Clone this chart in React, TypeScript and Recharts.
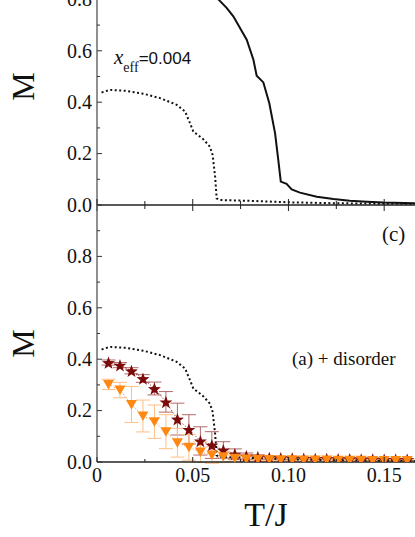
import React from 'react';
import { ComposedChart, Line, XAxis, YAxis, ErrorBar, Customized } from 'recharts';

// x range shown (the figure is cropped at the right edge)
const X_MAX = 0.1661;
const xTicks = [0, 0.025, 0.05, 0.075, 0.1, 0.125, 0.15];
const yTicksTop = [0, 0.1, 0.2, 0.3, 0.4, 0.5, 0.6, 0.7, 0.8, 0.9, 1.0];
const yTicksBottom = [0, 0.1, 0.2, 0.3, 0.4, 0.5, 0.6, 0.7, 0.8, 0.9];

// top panel: clean system (solid) and x_eff = 0.004 (dotted)
const solidT = [0.004, 0.03, 0.05, 0.06, 0.0634, 0.0677, 0.0712, 0.0782, 0.0817, 0.0834, 0.0869, 0.09, 0.093, 0.0947, 0.096, 0.099, 0.1017, 0.106, 0.1148, 0.1235, 0.132, 0.141, 0.1496, 0.166];
const solidM = [0.93, 0.9, 0.86, 0.82, 0.8, 0.767, 0.734, 0.643, 0.565, 0.503, 0.477, 0.396, 0.28, 0.175, 0.091, 0.082, 0.061, 0.048, 0.032, 0.023, 0.017, 0.013, 0.01, 0.007];

const dotT = [0.0024, 0.0068, 0.0155, 0.0242, 0.0329, 0.0416, 0.046, 0.0486, 0.0503, 0.0555, 0.059, 0.0604, 0.0617, 0.0625, 0.0643, 0.08, 0.1, 0.123, 0.15, 0.166];
const dotM = [0.438, 0.448, 0.444, 0.433, 0.416, 0.39, 0.364, 0.318, 0.286, 0.256, 0.227, 0.195, 0.11, 0.026, 0.0195, 0.016, 0.0105, 0.007, 0.005, 0.004];

// bottom panel: (a) + disorder, two sets with error bars
const markT = [0.006, 0.012, 0.018, 0.024, 0.03, 0.036, 0.042, 0.048, 0.054, 0.06, 0.066, 0.072, 0.078, 0.084, 0.09, 0.096, 0.102, 0.108, 0.114, 0.12, 0.126, 0.132, 0.138, 0.144, 0.15, 0.156, 0.162];
const starM = [0.387, 0.377, 0.355, 0.325, 0.286, 0.234, 0.167, 0.127, 0.082, 0.066, 0.047, 0.031, 0.023, 0.02, 0.017, 0.016, 0.015, 0.014, 0.013, 0.013, 0.012, 0.012, 0.011, 0.011, 0.01, 0.01, 0.01];
const starErr = [0.01, 0.01, 0.012, 0.015, 0.025, 0.04, 0.062, 0.057, 0.055, 0.052, 0.032, 0.02, 0.012, 0.008, 0.006, 0.005, 0.005, 0.004, 0.004, 0.004, 0.004, 0.004, 0.004, 0.004, 0.004, 0.004, 0.004];
const triM = [0.302, 0.28, 0.224, 0.179, 0.157, 0.118, 0.075, 0.057, 0.039, 0.027, 0.02, 0.015, 0.012, 0.011, 0.01, 0.009, 0.009, 0.008, 0.008, 0.008, 0.007, 0.007, 0.007, 0.006, 0.006, 0.006, 0.006];
const triErr = [0.02, 0.03, 0.07, 0.062, 0.065, 0.066, 0.056, 0.05, 0.04, 0.032, 0.022, 0.012, 0.008, 0.006, 0.005, 0.004, 0.004, 0.004, 0.004, 0.004, 0.004, 0.004, 0.004, 0.004, 0.004, 0.004, 0.004];

const zip = (t: number[], m: number[], e?: number[]) =>
  t.map((v, i) => ({ t: v, m: m[i], err: e ? e[i] : 0 }));

const solidData = zip(solidT, solidM);
const dottedData = zip(dotT, dotM);
const starData = zip(markT, starM, starErr);
const triData = zip(markT, triM, triErr);

const SERIF = '"Liberation Serif", "Times New Roman", serif';
const SANS = '"Liberation Sans", Arial, sans-serif';
const STAR = '#7b0b0b';
const STAR_ERR = '#b46a6a';
const TRI = '#ff8812';
const TRI_ERR = '#ffbf85';

const isMajorY = (v: number) => Math.round(v * 10) % 2 === 0;
const isMajorX = (v: number) => Math.round(v * 1000) % 50 === 0;

const YTick = (p: any) => {
  const v = p.payload.value;
  const major = isMajorY(v);
  return (
    <g>
      <line x1={p.x} x2={p.x + (major ? 5 : 3)} y1={p.y} y2={p.y} stroke="#333" strokeWidth={1} />
      {major && (
        <text x={p.x - 5} y={p.y} dy="0.34em" textAnchor="end" style={{ fontFamily: SERIF }} fontSize={20} fill="#111">
          {v.toFixed(1)}
        </text>
      )}
    </g>
  );
};

const TopXTick = (p: any) => {
  const h = isMajorX(p.payload.value) ? 6 : 4;
  return <line x1={p.x} x2={p.x} y1={p.y - h} y2={p.y + h} stroke="#222" strokeWidth={1} />;
};

const BottomXTick = (p: any) => {
  const v = p.payload.value;
  const major = isMajorX(v);
  const label = v === 0 ? '0' : v.toFixed(2);
  return (
    <g>
      <line x1={p.x} x2={p.x} y1={p.y} y2={p.y - (major ? 5 : 3)} stroke="#222" strokeWidth={1} />
      {major && (
        <text x={p.x} y={p.y + 20} textAnchor="middle" style={{ fontFamily: SERIF }} fontSize={20} fill="#111">
          {label}
        </text>
      )}
    </g>
  );
};

const MLabel = (p: any) => {
  const vb = p.viewBox;
  const x = 22.5;
  const y = vb.y + vb.height / 2 + 10;
  return (
    <text x={x} y={y} transform={`rotate(-90, ${x}, ${y})`} textAnchor="middle" dominantBaseline="central"
      style={{ fontFamily: SERIF }} fontSize={32} fill="#111">M</text>
  );
};

const TJLabel = (p: any) => {
  const vb = p.viewBox;
  return (
    <text x={266} y={vb.y + 64} textAnchor="middle" style={{ fontFamily: SERIF }} fontSize={34} fill="#111">T/J</text>
  );
};

const starPoints = (cx: number, cy: number, R: number, r: number) => {
  const pts: string[] = [];
  for (let i = 0; i < 10; i++) {
    const a = -Math.PI / 2 + (i * Math.PI) / 5;
    const rad = i % 2 === 0 ? R : r;
    pts.push(`${cx + rad * Math.cos(a)},${cy + rad * Math.sin(a)}`);
  }
  return pts.join(' ');
};

const renderStar = (p: any) => (
  <polygon key={`s${p.index}`} points={starPoints(p.cx, p.cy + 0.8, 6.8, 2.8)} fill={STAR} />
);

const renderTri = (p: any) => (
  <polygon key={`t${p.index}`}
    points={`${p.cx - 5.5},${p.cy - 4.5} ${p.cx + 5.5},${p.cy - 4.5} ${p.cx},${p.cy + 5}`} fill={TRI} />
);

const TopNotes = () => (
  <text x={114} y={125.5} fill="#111">
    <tspan style={{ fontFamily: SERIF }} fontStyle="italic" fontSize={21}>x</tspan>
    <tspan style={{ fontFamily: SERIF }} fontSize={14} dy={8.5}>eff</tspan>
    <tspan style={{ fontFamily: SANS }} fontSize={17} dy={-8.5}>=0.004</tspan>
  </text>
);

const BottomNotes = () => (
  <g fill="#111" style={{ fontFamily: SERIF }}>
    <text x={382} y={46} fontSize={21}>(c)</text>
    <text x={292} y={170} fontSize={19}>(a) + disorder</text>
  </g>
);

export default function App() {
  return (
    <div style={{ position: 'fixed', left: 0, top: 0, width: 415, height: 537, overflow: 'hidden', background: '#fff' }}>
      <div style={{ position: 'absolute', left: 0, top: -62 }}>
        <ComposedChart width={415} height={277} margin={{ top: 10, right: 0, left: 0, bottom: 9 }}>
          <XAxis dataKey="t" type="number" domain={[0, X_MAX]} ticks={xTicks} allowDataOverflow
            height={1} tickSize={0} tickMargin={0} tickLine={false} tick={TopXTick}
            axisLine={{ stroke: '#222', strokeWidth: 1.5 }} />
          <YAxis type="number" domain={[0, 1]} ticks={yTicksTop} width={97} allowDataOverflow
            tickSize={0} tickMargin={0} tickLine={false} tick={YTick}
            axisLine={{ stroke: '#555', strokeWidth: 1.3 }} label={{ content: MLabel }} />
          <Line data={solidData} dataKey="m" type="linear" stroke="#111" strokeWidth={2}
            dot={false} isAnimationActive={false} />
          <Line data={dottedData} dataKey="m" type="linear" stroke="#111" strokeWidth={2}
            strokeDasharray="2 2.5" dot={false} isAnimationActive={false} />
          <Customized component={TopNotes} />
        </ComposedChart>
      </div>
      <div style={{ position: 'absolute', left: 0, top: 195 }}>
        <ComposedChart width={415} height={342} margin={{ top: 10, right: 0, left: 0, bottom: 0 }}>
          <XAxis dataKey="t" type="number" domain={[0, X_MAX]} ticks={xTicks} allowDataOverflow
            height={75} tickSize={0} tickMargin={0} tickLine={false} tick={BottomXTick}
            axisLine={{ stroke: '#222', strokeWidth: 1.5 }} label={{ content: TJLabel }} />
          <YAxis type="number" domain={[0, 1]} ticks={yTicksBottom} width={97} allowDataOverflow
            tickSize={0} tickMargin={0} tickLine={false} tick={YTick}
            axisLine={{ stroke: '#555', strokeWidth: 1.3 }} label={{ content: MLabel }} />
          <Line data={starData} dataKey="m" type="linear" stroke={STAR} strokeWidth={1}
            strokeDasharray="1 2" dot={renderStar} isAnimationActive={false}>
            <ErrorBar dataKey="err" width={7} stroke={STAR_ERR} strokeWidth={1} direction="y" />
          </Line>
          <Line data={triData} dataKey="m" type="linear" stroke={TRI} strokeWidth={1}
            strokeDasharray="1 2" dot={renderTri} isAnimationActive={false}>
            <ErrorBar dataKey="err" width={7} stroke={TRI_ERR} strokeWidth={1} direction="y" />
          </Line>
          <Line data={dottedData} dataKey="m" type="linear" stroke="#111" strokeWidth={2}
            strokeDasharray="2 2.5" dot={false} isAnimationActive={false} />
          <Customized component={BottomNotes} />
        </ComposedChart>
      </div>
    </div>
  );
}
